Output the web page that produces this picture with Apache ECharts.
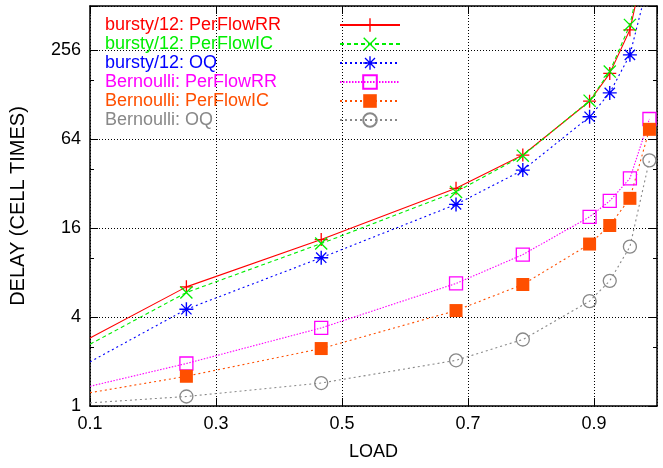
<!DOCTYPE html>
<html>
<head>
<meta charset="utf-8">
<script src="https://cdn.jsdelivr.net/npm/echarts@6/dist/echarts.min.js"></script>
<style>
  html, body { margin: 0; padding: 0; background: #fff; }
  #chart { width: 663px; height: 468px; }
</style>
</head>
<body>
<div id="chart"></div>
<script>
// load values (first one is the left edge of the plot, drawn without a marker)
const loads = [0.1, 0.253, 0.467, 0.681, 0.787, 0.893, 0.925, 0.957, 0.988];

const burstyRR = [2.89, 6.41, 13.4, 29.8, 50.1, 116, 179, 353, 1400];
const burstyIC = [2.62, 5.87, 12.6, 28.2, 49.6, 117, 184, 381, 1500];
const burstyOQ = [1.99, 4.52, 10.1, 23.2, 39.6, 91, 132, 239, 800];
const bernRR = [1.36, 1.94, 3.38, 6.76, 10.6, 19.1, 24.5, 34.8, 87.9];
const bernIC = [1.23, 1.59, 2.45, 4.43, 6.65, 12.5, 16.7, 25.5, 74.8];
const bernOQ = [1.05, 1.16, 1.43, 2.04, 2.82, 5.13, 7.04, 12.0, 46.1];

const xTicks = [0.1, 0.3, 0.5, 0.7, 0.9];

const FONT = '"Liberation Sans Narrow", "Liberation Sans", Arial, sans-serif';

const PLUS = 'path://M0,5.4H12V6.6H0ZM5.4,0H6.6V12H5.4Z';
const CROSS = 'path://M0,0.85L0.85,0L12,11.15L11.15,12ZM11.15,0L12,0.85L0.85,12L0,11.15Z';
const STAR = 'path://M0,5.4H12V6.6H0ZM5.4,0H6.6V12H5.4ZM1.2,2L2,1.2L10.8,10L10,10.8ZM10,1.2L10.8,2L2,10.8L1.2,10Z';

const toData = (vals) =>
  loads.map((x, i) => (i === 0 ? { value: [x, vals[i]], symbol: 'none' } : [x, vals[i]]));

const mkSeries = (name, vals, color, dash, symbol, size, filled) => ({
  name: name,
  type: 'line',
  data: toData(vals),
  xAxisIndex: 0,
  yAxisIndex: 0,
  symbol: symbol,
  symbolSize: size,
  showAllSymbol: true,
  clip: true,
  lineStyle: { color: color, width: 1.1, type: dash },
  itemStyle: filled
    ? { color: color }
    : { color: 'rgba(0,0,0,0)', borderColor: color, borderWidth: 1.3 },
  emphasis: { disabled: true },
  animation: false,
});

const series = [
  mkSeries('bursty/12: PerFlowRR', burstyRR, '#ff0000', 'solid', PLUS, 13, true),
  mkSeries('bursty/12: PerFlowIC', burstyIC, '#00ee00', [4, 3], CROSS, 13, true),
  mkSeries('bursty/12: OQ', burstyOQ, '#0000ff', [2, 3], STAR, 14, true),
  mkSeries('Bernoulli: PerFlowRR', bernRR, '#ff00ff', [1.5, 1.5], 'rect', 13, false),
  mkSeries('Bernoulli: PerFlowIC', bernIC, '#ff4f00', [2, 3], 'rect', 13, true),
  mkSeries('Bernoulli: OQ', bernOQ, '#888888', [2, 3], 'circle', 13, false),
];

const colors = ['#ff0000', '#00ee00', '#0000ff', '#ff00ff', '#ff4f00', '#888888'];

const axisCommon = {
  axisLine: { show: true, onZero: false, lineStyle: { color: '#000', width: 1.5 } },
  axisTick: { show: true, inside: true, length: 8, lineStyle: { color: '#000' } },
};

const chart = echarts.init(document.getElementById('chart'));
chart.setOption({
  animation: false,
  grid: { left: 89, right: 6, top: 6, bottom: 62, containLabel: false },
  legend: {
    left: 100,
    top: 11,
    orient: 'vertical',
    align: 'right',
    itemWidth: 60,
    itemHeight: 17,
    itemGap: 1,
    selectedMode: false,
    data: series.map((s, i) => ({
      name: s.name,
      textStyle: { rich: { t: { color: colors[i], width: 230, align: 'left', fontFamily: FONT, fontSize: 18 } } },
    })),
    formatter: (name) => '{t|' + name + '}',
    textStyle: { fontFamily: FONT, fontSize: 18 },
  },
  xAxis: [
    Object.assign({}, axisCommon, {
      type: 'value',
      position: 'bottom',
      min: 0.1,
      max: 1.0,
      interval: 0.2,
      name: 'LOAD',
      nameLocation: 'middle',
      nameGap: 37,
      nameTextStyle: { fontFamily: FONT, fontSize: 18, color: '#000' },
      axisLabel: {
        fontFamily: FONT, fontSize: 18, color: '#000', margin: 9,
        showMaxLabel: false,
        formatter: (v) => (xTicks.some((t) => Math.abs(t - v) < 1e-6) ? (+v).toFixed(1) : ''),
      },
      splitLine: { show: true, lineStyle: { color: '#000', type: [1, 2], width: 1 } },
    }),
    Object.assign({}, axisCommon, {
      type: 'value',
      position: 'top',
      min: 0.1,
      max: 1.0,
      interval: 0.2,
      axisLabel: { show: false },
      splitLine: { show: false },
    }),
  ],
  yAxis: [
    Object.assign({}, axisCommon, {
      type: 'log',
      logBase: 4,
      position: 'left',
      min: 1,
      max: 512,
      name: 'DELAY (CELL TIMES)',
      nameLocation: 'middle',
      nameRotate: 90,
      nameGap: 62,
      nameTextStyle: { fontFamily: '"Liberation Sans", Arial, sans-serif', fontSize: 20, color: '#000' },
      axisLabel: { fontFamily: FONT, fontSize: 18, color: '#000', margin: 9, showMaxLabel: false },
      minorTick: { show: true, splitNumber: 2, length: 4, lineStyle: { color: '#000' } },
      splitLine: { show: true, lineStyle: { color: '#000', type: [1, 2], width: 1 } },
    }),
    Object.assign({}, axisCommon, {
      type: 'log',
      logBase: 4,
      position: 'right',
      min: 1,
      max: 512,
      axisLabel: { show: false },
      minorTick: { show: true, splitNumber: 2, length: 4, lineStyle: { color: '#000' } },
      splitLine: { show: false },
    }),
  ],
  series: series,
});
</script>
</body>
</html>
